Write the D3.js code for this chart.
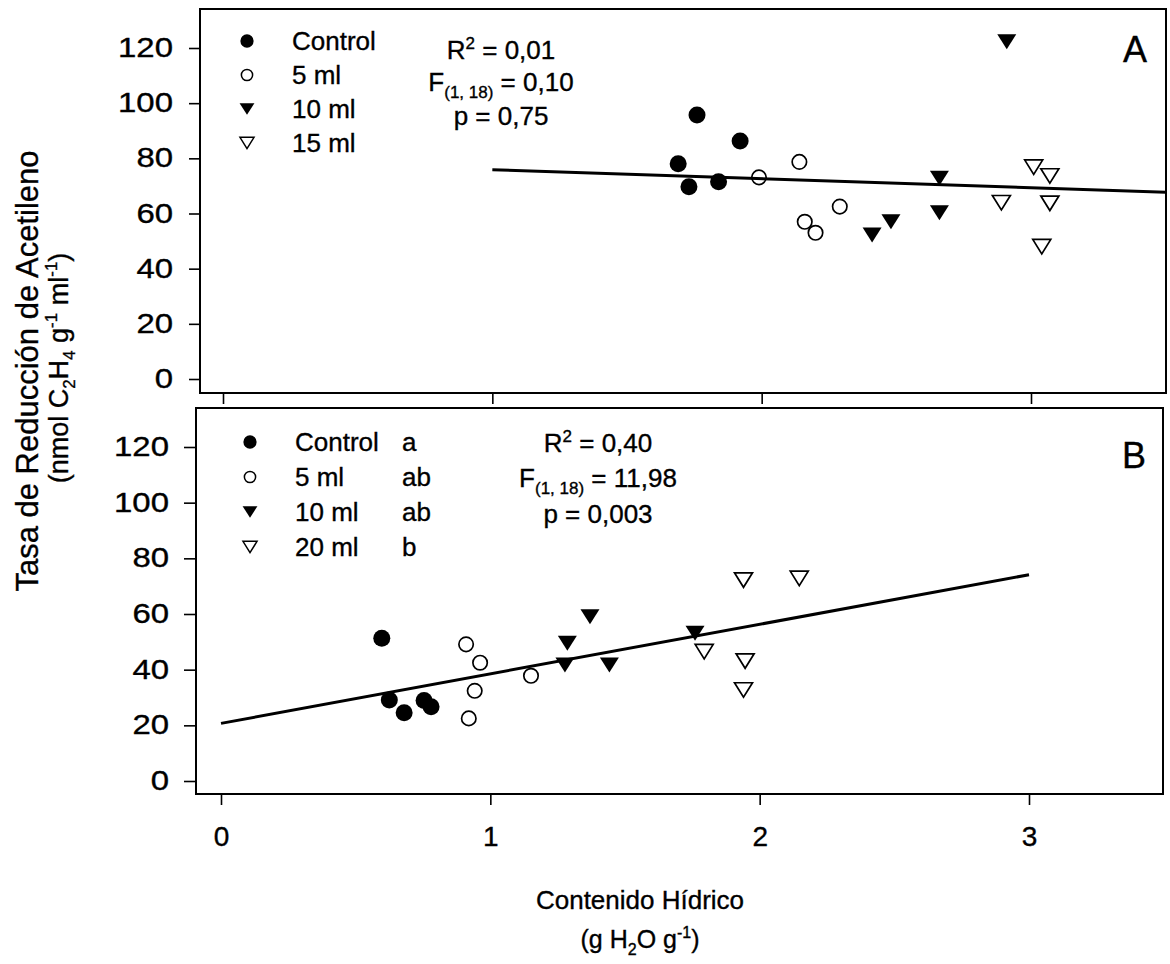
<!DOCTYPE html>
<html>
<head>
<meta charset="utf-8">
<script src="https://cdn.jsdelivr.net/npm/d3@7"></script>
<style>
  html, body { margin: 0; padding: 0; background: #fff; }
  svg { display: block; }
  text { font-family: "Liberation Sans", Arial, Helvetica, sans-serif; fill: #000; stroke: #000; stroke-width: 0.35px; }
</style>
</head>
<body>
<svg id="chart" width="1170" height="964"></svg>
<script>
// ---------- data ----------
const xTicks = [0, 1, 2, 3];
const yTicks = [0, 20, 40, 60, 80, 100, 120];

const groupsA = ["Control", "5 ml", "10 ml", "15 ml"];
const groupsB = ["Control", "5 ml", "10 ml", "20 ml"];
const lettersB = ["a", "ab", "ab", "b"];
const markerKinds = ["dot", "ring", "tri", "openTri"];

// Panel A: water content (g H2O g-1) vs. acetylene reduction rate
const controlA_x = [1.69, 1.76, 1.73, 1.84, 1.92];
const controlA_y = [78.0, 95.7, 69.7, 71.5, 86.3];
const ml5A_x = [1.99, 2.14, 2.16, 2.20, 2.29];
const ml5A_y = [73.1, 78.7, 57.0, 53.0, 62.5];
const ml10A_x = [2.41, 2.48, 2.66, 2.66, 2.91];
const ml10A_y = [52.2, 57.0, 72.8, 60.3, 122.3];
const ml15A_x = [2.89, 3.01, 3.04, 3.07, 3.07];
const ml15A_y = [63.9, 76.8, 48.0, 73.6, 63.7];

// Panel B
const controlB_x = [0.597, 0.625, 0.680, 0.754, 0.780];
const controlB_y = [51.3, 29.1, 24.5, 28.9, 26.7];
const ml5B_x = [0.910, 0.920, 0.942, 0.962, 1.151];
const ml5B_y = [49.1, 22.5, 32.4, 42.5, 37.8];
const ml10B_x = [1.277, 1.286, 1.370, 1.442, 1.760];
const ml10B_y = [41.7, 49.5, 59.0, 41.7, 53.1];
const ml20B_x = [1.794, 1.940, 1.940, 1.946, 2.147];
const ml20B_y = [46.5, 72.2, 32.7, 43.1, 72.8];

// Linear fits
const fitA_x = [1, 3.5];
const fitA_y = [75.9, 67.7];
const fitB_x = [0, 3];
const fitB_y = [20.7, 74.1];

// Regression statistics: R2, F(1,18), p
const statsA = ["0,01", "0,10", "0,75"];
const statsB = ["0,40", "11,98", "0,003"];
const dfLabel = "(1, 18)";

// ---------- helpers ----------
const svg = d3.select("#chart");

function downTriangle(w, h) {
  return {
    draw(ctx) {
      ctx.moveTo(-w / 2, -h / 2);
      ctx.lineTo(w / 2, -h / 2);
      ctx.lineTo(0, h / 2);
      ctx.closePath();
    }
  };
}

function markerStyle(kind, legend) {
  const k = legend ? 0.78 : 1;
  switch (kind) {
    case "dot":
      return { path: d3.symbol().type(d3.symbolCircle).size(Math.PI * Math.pow(8.5 * k, 2))(), fill: "#000", stroke: "none" };
    case "ring":
      return { path: d3.symbol().type(d3.symbolCircle).size(Math.PI * Math.pow(7.2 * k, 2))(), fill: "#fff", stroke: "#000" };
    case "tri":
      return { path: d3.symbol().type(downTriangle(19 * k, 15 * k))(), fill: "#000", stroke: "none" };
    default:
      return { path: d3.symbol().type(downTriangle(18 * k, 14.5 * k))(), fill: "#fff", stroke: "#000" };
  }
}

function zipPoints(xs, ys, g) {
  return xs.map((x, i) => ({ x, y: ys[i], g }));
}

// text made of plain / sub / sup runs
function richText(parent, x, y, parts, opts = {}) {
  const size = opts.size || 26;
  const small = Math.round(size * 0.64);
  const t = parent.append("text")
    .attr("x", x).attr("y", y)
    .attr("font-size", size)
    .attr("text-anchor", opts.anchor || "start");
  if (opts.transform) t.attr("transform", opts.transform);
  let shift = 0;
  parts.forEach(p => {
    const target = p.sub ? size * 0.26 : p.sup ? -size * 0.4 : 0;
    t.append("tspan")
      .attr("dy", target - shift)
      .attr("font-size", p.sub || p.sup ? small : size)
      .text(p.t);
    shift = target;
  });
  return t;
}

function drawPanel(cfg) {
  const g = svg.append("g");
  const { frame, x, y } = cfg;

  // frame
  g.append("rect")
    .attr("x", frame.l).attr("y", frame.t)
    .attr("width", frame.r - frame.l).attr("height", frame.b - frame.t)
    .attr("fill", "none").attr("stroke", "#000").attr("stroke-width", 2);

  // left axis
  const sx = 1.22;
  const ya = g.append("g")
    .attr("transform", `translate(${frame.l},0)`)
    .call(d3.axisLeft(y).tickValues(yTicks).tickSize(cfg.yTick).tickPadding(cfg.yPad).tickFormat(d3.format("d")));
  ya.select(".domain").remove();
  ya.selectAll(".tick line").attr("stroke", "#000").attr("stroke-width", 1.6);
  ya.selectAll(".tick text")
    .attr("font-size", 27)
    .attr("font-family", "Liberation Sans, Arial, sans-serif")
    .attr("fill", "#000")
    .attr("x", -(cfg.yTick + cfg.yPad) / sx)
    .attr("transform", `scale(${sx},1)`);

  // bottom axis
  const xa = g.append("g")
    .attr("transform", `translate(0,${frame.b})`)
    .call(d3.axisBottom(x).tickValues(xTicks).tickSize(11).tickPadding(21)
      .tickFormat(cfg.xLabels ? d3.format("d") : ""));
  xa.select(".domain").remove();
  xa.selectAll(".tick line").attr("stroke", "#000").attr("stroke-width", 1.6);
  xa.selectAll(".tick text")
    .attr("font-size", 28)
    .attr("font-family", "Liberation Sans, Arial, sans-serif")
    .attr("fill", "#000");

  // points
  g.append("g").selectAll("path")
    .data(cfg.points)
    .join("path")
    .attr("transform", d => `translate(${x(d.x)},${y(d.y)})`)
    .each(function (d) {
      const m = markerStyle(markerKinds[d.g], false);
      d3.select(this).attr("d", m.path).attr("fill", m.fill)
        .attr("stroke", m.stroke).attr("stroke-width", 1.7);
    });

  // fitted line
  const line = d3.line().x(d => x(d[0])).y(d => y(d[1]));
  g.append("path")
    .datum(cfg.fitX.map((v, i) => [v, cfg.fitY[i]]))
    .attr("d", line)
    .attr("fill", "none").attr("stroke", "#000").attr("stroke-width", 3);

  // legend
  const lg = g.append("g");
  cfg.groups.forEach((name, i) => {
    const cy = cfg.legend.y0 + i * cfg.legend.step;
    const m = markerStyle(markerKinds[i], true);
    lg.append("path").attr("d", m.path)
      .attr("transform", `translate(${cfg.legend.mx},${cy})`)
      .attr("fill", m.fill).attr("stroke", m.stroke).attr("stroke-width", 1.5);
    lg.append("text").attr("x", cfg.legend.tx).attr("y", cy + 9)
      .attr("font-size", 26).text(name);
    if (cfg.letters) {
      lg.append("text").attr("x", cfg.legend.lx).attr("y", cy + 9)
        .attr("font-size", 26).text(cfg.letters[i]);
    }
  });

  // statistics
  const st = cfg.statsPos;
  richText(g, st.x, st.y[0], [{ t: "R" }, { t: "2", sup: true }, { t: " = " + cfg.stats[0] }], { anchor: "middle" });
  richText(g, st.x, st.y[1], [{ t: "F" }, { t: dfLabel, sub: true }, { t: " = " + cfg.stats[1] }], { anchor: "middle" });
  richText(g, st.x, st.y[2], [{ t: "p = " + cfg.stats[2] }], { anchor: "middle" });

  // panel letter
  g.append("text").attr("x", cfg.tag.x).attr("y", cfg.tag.y)
    .attr("font-size", 36).attr("text-anchor", "middle").text(cfg.tag.t);
}

// ---------- panels ----------
drawPanel({
  frame: { l: 200, r: 1166, t: 9, b: 393 },
  x: d3.scaleLinear().domain([0, 3]).range([223, 1031]),
  y: d3.scaleLinear().domain([0, 120]).range([379, 48]),
  yTick: 11, yPad: 16,
  xLabels: false,
  points: [].concat(
    zipPoints(controlA_x, controlA_y, 0),
    zipPoints(ml5A_x, ml5A_y, 1),
    zipPoints(ml10A_x, ml10A_y, 2),
    zipPoints(ml15A_x, ml15A_y, 3)),
  fitX: fitA_x, fitY: fitA_y,
  groups: groupsA,
  legend: { mx: 247, tx: 292, y0: 41, step: 34 },
  stats: statsA,
  statsPos: { x: 501, y: [59, 91, 125] },
  tag: { t: "A", x: 1135, y: 62 }
});

drawPanel({
  frame: { l: 196, r: 1163, t: 408, b: 794 },
  x: d3.scaleLinear().domain([0, 3]).range([221, 1029]),
  y: d3.scaleLinear().domain([0, 120]).range([781, 447]),
  yTick: 12, yPad: 15,
  xLabels: true,
  points: [].concat(
    zipPoints(controlB_x, controlB_y, 0),
    zipPoints(ml5B_x, ml5B_y, 1),
    zipPoints(ml10B_x, ml10B_y, 2),
    zipPoints(ml20B_x, ml20B_y, 3)),
  fitX: fitB_x, fitY: fitB_y,
  groups: groupsB,
  letters: lettersB,
  legend: { mx: 250, tx: 295, lx: 402, y0: 442, step: 35 },
  stats: statsB,
  statsPos: { x: 598, y: [452, 487, 523] },
  tag: { t: "B", x: 1134, y: 468 }
});

// ---------- axis titles ----------
svg.append("text")
  .attr("transform", "translate(38,371) rotate(-90)")
  .attr("text-anchor", "middle").attr("font-size", 31)
  .text("Tasa de Reducción de Acetileno");
richText(svg, 0, 0, [
  { t: "(nmol C" }, { t: "2", sub: true }, { t: "H" }, { t: "4", sub: true },
  { t: " g" }, { t: "-1", sup: true }, { t: " ml" }, { t: "-1", sup: true }, { t: ")" }
], { anchor: "middle", size: 27, transform: "translate(68,368) rotate(-90)" });

svg.append("text")
  .attr("x", 640).attr("y", 909)
  .attr("text-anchor", "middle").attr("font-size", 26)
  .text("Contenido Hídrico");
richText(svg, 640, 948, [
  { t: "(g H" }, { t: "2", sub: true }, { t: "O g" }, { t: "-1", sup: true }, { t: ")" }
], { anchor: "middle", size: 25 });
</script>
</body>
</html>
